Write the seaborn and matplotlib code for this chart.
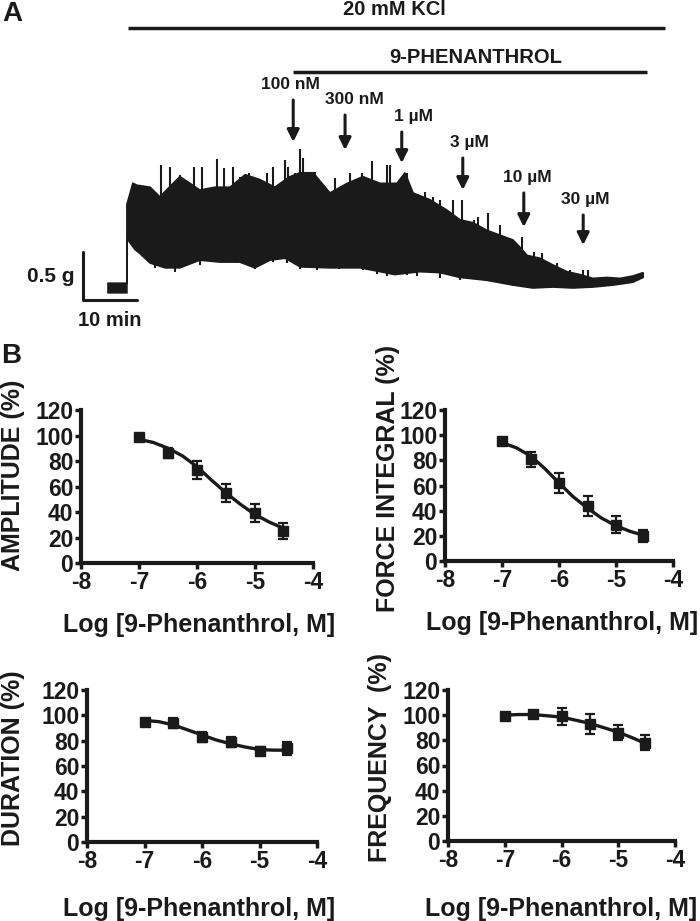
import numpy as np
import matplotlib
matplotlib.use('Agg')
import matplotlib.pyplot as plt
import seaborn as sns

sns.set_style('ticks')
plt.rcParams['font.family'] = ['Liberation Sans', 'DejaVu Sans']
plt.rcParams['font.weight'] = 'bold'

INK = '#1a1a1a'

# ---- panel A: force trace (time in min, force in g)
trace_t_up = [0, 3.5, 3.5, 4.6, 5.4, 7.8, 9.6, 13.3, 15.2, 17.0, 19.8, 22.6, 25.4, 28.1, 30.9,
              31.9, 33.7, 35.6, 38.0, 41.1, 44.3, 47.2, 50.4, 53.5, 55.0, 56.5, 59.6, 62.8,
              65.2, 67.6, 70.2, 72.6, 75.0, 76.7, 77.6, 80.0, 82.4, 85.0, 87.4, 89.8, 92.4,
              94.8, 97.2, 99.1]
trace_g_up = [0.05, 0.05, 0.87, 1.09, 1.07, 1.05, 0.95, 1.16, 1.09, 1.02, 1.05, 1.05, 1.18,
              1.13, 1.05, 1.09, 1.16, 1.20, 1.20, 0.99, 1.09, 1.16, 1.09, 1.09, 1.20, 0.99,
              0.92, 0.81, 0.71, 0.68, 0.60, 0.55, 0.50, 0.40, 0.34, 0.31, 0.24, 0.17, 0.14,
              0.10, 0.11, 0.10, 0.125, 0.16]
trace_t_lo = [0, 3.5, 3.5, 3.7, 5.0, 5.9, 7.8, 10.6, 13.3, 17.0, 20.7, 24.4, 27.2, 30.0, 32.8,
              35.6, 41.1, 46.7, 50.4, 53.1, 57.8, 61.5, 65.2, 70.2, 75.0, 78.7, 82.4, 86.1,
              89.8, 93.5, 97.2, 99.1]
trace_g_lo = [-0.05, -0.05, 0.50, 0.50, 0.40, 0.36, 0.26, 0.21, 0.21, 0.29, 0.27, 0.27, 0.21,
              0.29, 0.31, 0.22, 0.21, 0.21, 0.17, 0.14, 0.17, 0.16, 0.11, 0.08, 0.03, 0.0,
              0.01, 0.0, 0.01, 0.03, 0.06, 0.11]

# tall single contractions poking out of the band
spike_up_t = [9.9, 11.5, 13.3, 16.0, 17.4, 20.1, 21.5, 23.1, 24.4, 26.1, 27.5, 29.4, 30.6,
              32.8, 33.4, 34.6, 35.6, 36.1, 37.4, 38.3, 42.0, 44.8, 47.0, 48.8, 51.6, 52.2,
              54.4, 55.3, 58.7, 60.2, 61.5, 63.9, 65.5, 67.7, 68.6, 70.4, 72.6, 74.4, 76.6,
              78.8, 80.3, 83.1, 85.6, 88.0, 88.9]
spike_up_g = [1.28, 1.26, 1.18, 1.26, 1.26, 1.34, 1.25, 1.26, 1.16, 1.20, 1.14, 1.20, 1.26,
              1.33, 1.26, 1.20, 1.45, 1.35, 1.16, 1.21, 1.15, 1.20, 1.20, 1.32, 1.28, 1.28,
              1.15, 1.20, 1.00, 0.95, 0.92, 0.92, 0.92, 0.71, 0.74, 0.78, 0.66, 0.52, 0.53,
              0.38, 0.36, 0.26, 0.19, 0.19, 0.19]
spike_dn_t = [8.7, 12.4, 17.0, 19.8, 23.8, 27.2, 30.6, 33.1, 35.6, 38.7, 42.7, 47.3, 49.8,
              51.6, 55.3, 57.2, 61.5, 65.2]
spike_dn_g = [0.21, 0.17, 0.24, 0.29, 0.26, 0.20, 0.27, 0.26, 0.20, 0.19, 0.20, 0.19, 0.15,
              0.12, 0.135, 0.12, 0.10, 0.08]

dose_labels = ['100 nM', '300 nM', '1 \u00b5M', '3 \u00b5M', '10 \u00b5M', '30 \u00b5M']
dose_time = [34.3, 43.9, 54.4, 65.7, 77.0, 88.0]

# ---- panel B: concentration-response
log_conc = [-7, -6.5, -6, -5.5, -5, -4.52]
amp_mean = [99, 86, 73, 55, 39, 25]
amp_err = [2, 4, 7, 7, 7, 6]
force_mean = [95, 81, 62, 44, 29, 20]
force_err = [3, 6, 8, 8, 6.5, 5]
dur_mean = [95, 94, 83, 79, 72, 74]
dur_err = [2, 4, 4, 4, 3, 5]
freq_mean = [99, 101, 99, 93, 86, 78]
freq_err = [2, 2, 7, 8, 6, 6]

fit_x = [-7, -6.75, -6.5, -6.25, -6, -5.75, -5.5, -5.25, -5, -4.75, -4.52]
amp_fit = [97, 94.5, 90, 84, 75.5, 65, 55, 46, 38, 32, 27.5]
force_fit = [94, 90, 83.5, 73.5, 62, 51, 42, 34, 28, 23.5, 20.5]
dur_fit = [96, 95, 92.5, 88.5, 84.5, 80.5, 77.5, 75, 73, 72.5, 72.5]
freq_fit = [100, 100.5, 100.5, 99.5, 98.5, 96, 93.5, 90, 86.5, 82, 77.5]

fig = plt.figure(figsize=(7, 9.21), dpi=100)
W, H = 700.0, 921.0

# panel A axes: full width, top 340 px; 5.4 px per min, 96 px per g
axA = fig.add_axes([0, 1 - 340 / H, 1, 340 / H])
axA.set_xlim(-20, (700 - 108) / 5.4)
axA.set_ylim((288 - 340) / 96, 288 / 96)
axA.axis('off')

poly_t = np.concatenate([trace_t_up, trace_t_lo[::-1]])
poly_g = np.concatenate([trace_g_up, trace_g_lo[::-1]])
axA.fill(poly_t, poly_g, facecolor=INK, edgecolor=INK, lw=1.2)
axA.vlines(spike_up_t, np.array(spike_up_g) * 0.6, spike_up_g, color=INK, lw=1.5)
axA.vlines(spike_dn_t, spike_dn_g, np.array(spike_dn_g) + 0.15, color=INK, lw=1.5)

# bars over the trace
axA.plot([3.7, 103.1], [2.708, 2.708], color=INK, lw=2.5, solid_capstyle='butt')
axA.text(53.1, 2.90, '20 mM KCl', ha='center', va='center', fontsize=14.5, color=INK)
axA.plot([34.3, 99.8], [2.25, 2.25], color=INK, lw=2.5, solid_capstyle='butt')
axA.text(68.1, 2.40, '9-PHENANTHROL', ha='center', va='center', fontsize=14.5, color=INK)

arrow_top = [1.958, 1.802, 1.625, 1.354, 0.990, 0.760]
arrow_tip = [1.521, 1.4375, 1.302, 1.021, 0.635, 0.448]
label_dx = [-0.6, 1.8, 2.1, 1.3, 0.6, 0.3]
for lab, t, top, tip, dx in zip(dose_labels, dose_time, arrow_top, arrow_tip, label_dx):
    axA.annotate('', xy=(t, tip), xytext=(t, top),
                 arrowprops=dict(arrowstyle='-|>', color=INK, lw=2.2, mutation_scale=18,
                                 shrinkA=0, shrinkB=0))
    axA.text(t + dx, top + 0.16, lab, ha='center', va='center', fontsize=12.5, color=INK)

# scale bar
axA.plot([-4.63, -4.63, 5.37], [0.375, -0.125, -0.125], color=INK, lw=2.2)
axA.text(-10.6, 0.115, '0.5 g', ha='center', va='center', fontsize=15, color=INK)
axA.text(0.4, -0.335, '10 min', ha='center', va='center', fontsize=14.5, color=INK)

fig.text(2 / W, 1 - 14 / H, 'A', fontsize=20, ha='left', va='center', color=INK)
fig.text(1 / W, 1 - 356 / H, 'B', fontsize=20, ha='left', va='center', color=INK)

# panel B
panels = [
    # left, right, top, bottom px, ylabel, mean, err, fit, ylab xy, xlab xy
    (81, 313, 410, 563, 'AMPLITUDE (%)', amp_mean, amp_err, amp_fit, (-0.241, 0.575), (0.51, -0.33)),
    (445, 673, 410, 561, 'FORCE INTEGRAL (%)', force_mean, force_err, force_fit, (-0.197, 0.55), (0.513, -0.33)),
    (87, 317, 690, 842, 'DURATION (%)', dur_mean, dur_err, dur_fit, (-0.27, 0.553), (0.487, -0.36)),
    (448, 675, 690, 841, 'FREQUENCY  (%)', freq_mean, freq_err, freq_fit, (-0.247, 0.556), (0.50, -0.37)),
]

for l, r, t, b, ylab, mean, err, fit, ylxy, xlxy in panels:
    ax = fig.add_axes([l / W, 1 - b / H, (r - l) / W, (b - t) / H])
    sns.lineplot(x=fit_x, y=fit, ax=ax, color=INK, lw=2.4)
    ax.errorbar(log_conc, mean, yerr=err, fmt='s', color=INK, ms=6.5, elinewidth=1.6,
                capsize=3.5, capthick=1.6)
    ax.set_xlim(-8, -4)
    ax.set_ylim(0, 120)
    ax.set_xticks([-8, -7, -6, -5, -4])
    ax.set_xticklabels(['-8', '-7', '-6', '-5', '-4'])
    ax.set_yticks(range(0, 121, 20))
    sns.despine(ax=ax)
    for side in ['left', 'bottom']:
        ax.spines[side].set_linewidth(3)
        ax.spines[side].set_color(INK)
    ax.tick_params(direction='out', length=4, width=2.5, labelsize=16.5, pad=1.5,
                   colors=INK)
    for lbl in ax.get_xticklabels() + ax.get_yticklabels():
        lbl.set_fontweight('bold')
    ax.set_ylabel(ylab, fontsize=18, fontweight='bold', color=INK)
    ax.set_xlabel('Log [9-Phenanthrol, M]', fontsize=18, fontweight='bold', color=INK)
    ax.yaxis.set_label_coords(*ylxy)
    ax.xaxis.set_label_coords(*xlxy)
    ax.patch.set_alpha(0)

fig.savefig('out.png', dpi=100)
